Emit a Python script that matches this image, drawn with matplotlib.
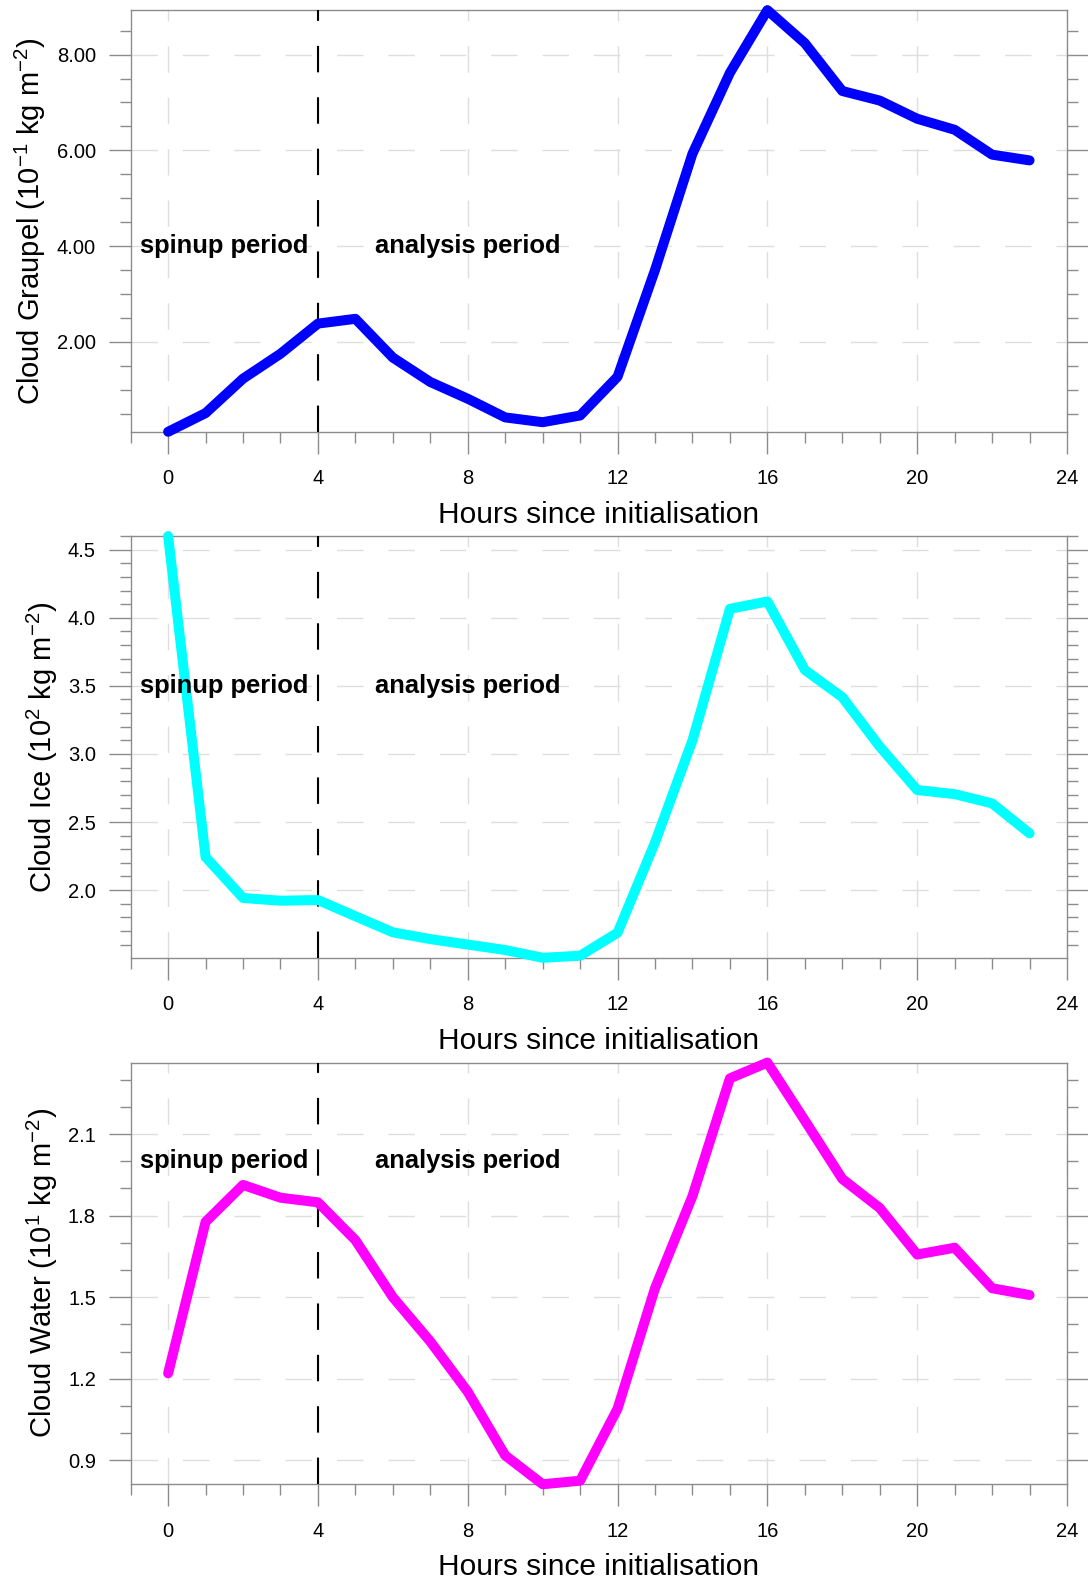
import matplotlib
matplotlib.use("Agg")
import matplotlib.pyplot as plt
from matplotlib.ticker import MultipleLocator, FormatStrFormatter

plt.rcParams['font.family'] = ['Liberation Sans', 'DejaVu Sans']
plt.rcParams['mathtext.fontset'] = 'custom'
plt.rcParams['mathtext.rm'] = 'Liberation Sans'
plt.rcParams['mathtext.it'] = 'Liberation Sans:italic'
plt.rcParams['lines.scale_dashes'] = False

hours = list(range(24))

graupel = [0.12, 0.51, 1.23, 1.75, 2.38, 2.48, 1.67, 1.16, 0.81, 0.42, 0.32, 0.46,
           1.27, 3.50, 5.93, 7.62, 8.93, 8.24, 7.24, 7.04, 6.66, 6.43, 5.91, 5.79]
ice = [4.60, 2.243, 1.942, 1.922, 1.927, 1.808, 1.69, 1.64, 1.60, 1.56, 1.503, 1.518,
       1.687, 2.35, 3.10, 4.066, 4.12, 3.617, 3.417, 3.054, 2.735, 2.705, 2.637, 2.417]
water = [1.22, 1.777, 1.913, 1.866, 1.849, 1.71, 1.50, 1.337, 1.152, 0.918, 0.812, 0.825,
         1.09, 1.533, 1.872, 2.305, 2.363, 2.15, 1.935, 1.828, 1.657, 1.682, 1.533, 1.508]

panels = [
    (graupel, 'blue', r'Cloud Graupel (10$^{-1}$ kg m$^{-2}$)', 2.0, 0.5, '%.2f', 4.0),
    (ice, 'cyan', r'Cloud Ice (10$^{2}$ kg m$^{-2}$)', 0.5, 0.1, '%.1f', 3.5),
    (water, 'magenta', r'Cloud Water (10$^{1}$ kg m$^{-2}$)', 0.3, 0.1, '%.1f', 2.0),
]

fig = plt.figure(figsize=(10.88, 15.81), dpi=100)
bottoms = [0.7269, 0.3942, 0.0612]
frame = '#8c8c8c'
gridc = '#dedede'

for (vals, col, ylab, major, minor, fmt, ytext), b in zip(panels, bottoms):
    ax = fig.add_axes([0.1201, b, 0.8606, 0.2667])
    ax.plot(hours, vals, color=col, lw=7.2, solid_capstyle='round',
            solid_joinstyle='round', zorder=4, clip_on=False)
    ax.set_xlim(-1, 24)
    ax.set_ylim(min(vals), max(vals))
    ax.axvline(4, color='black', lw=1.5, linestyle=(0, (19, 18)), zorder=3)

    ax.xaxis.set_major_locator(MultipleLocator(4))
    ax.xaxis.set_minor_locator(MultipleLocator(1))
    ax.yaxis.set_major_locator(MultipleLocator(major))
    ax.yaxis.set_minor_locator(MultipleLocator(minor))
    ax.yaxis.set_major_formatter(FormatStrFormatter(fmt))

    ax.grid(True, which='major', color=gridc, lw=1.0, linestyle=(0, (19, 18)), zorder=0)
    ax.set_axisbelow(True)

    ax.tick_params(which='both', direction='out', color=frame, width=1.0,
                   top=False, right=True, labelsize=14.5)
    ax.tick_params(which='major', length=16)
    ax.tick_params(which='minor', length=8)
    ax.tick_params(axis='x', which='major', pad=11)
    ax.tick_params(axis='y', which='major', pad=9)
    for s in ax.spines.values():
        s.set_color(frame)
        s.set_linewidth(1.0)

    ax.set_xlabel('Hours since initialisation', fontsize=21.5, labelpad=9)
    ax.set_ylabel(ylab, fontsize=21, labelpad=6)

    ax.text(1.5, ytext, 'spinup period', fontsize=18.4, fontweight='bold',
            ha='center', va='center', zorder=5)
    ax.text(8.0, ytext, 'analysis period', fontsize=18.4, fontweight='bold',
            ha='center', va='center', zorder=5)

fig.savefig('out.png', dpi=100)
